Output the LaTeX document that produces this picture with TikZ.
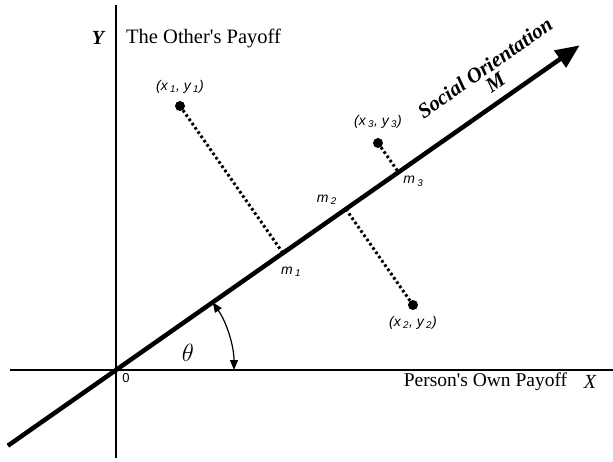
\documentclass[tikz,border=0pt]{standalone}
\usepackage{fontspec}
\setmainfont{Liberation Serif}[Ligatures=TeXOff]
\newfontfamily\lblfont{Liberation Sans}
\usetikzlibrary{arrows.meta, calc, positioning}

\begin{document}
\begin{tikzpicture}[x=1pt, y=1pt,
			axis/.style={line width=1.6pt},
			orient/.style={line width=4.5pt, -{Triangle[length=24pt, width=20pt]}},
			perp/.style={line width=3pt, dash pattern=on 2.6pt off 2.6pt},
			pt/.style={circle, fill, inner sep=0pt, minimum size=10pt},
			lbl/.style={font=\lblfont\fontsize{14}{16}\selectfont\itshape, inner sep=0pt},
			ttl/.style={font=\fontsize{19.5}{22}\selectfont, inner sep=0pt},
			angarr/.style={line width=1.2pt, {Triangle[length=10pt, width=8pt]}-{Triangle[length=10pt, width=8pt]}}]
			\useasboundingbox (0,0) rectangle (613,461);
			% axes
			\coordinate (O) at (116,91);
			\coordinate (ytop) at (116,456);
			\coordinate (ybot) at (116,3);
			\coordinate (xleft) at (10,91);
			\coordinate (xright) at (613,91);
			\draw[axis] (ybot) -- (ytop);
			\draw[axis] (xleft) -- (xright);
			\node[ttl, font=\bfseries\itshape\fontsize{20}{22}\selectfont] (ylab) at (98,423) {Y};
			\node[ttl, anchor=west, font=\fontsize{20.5}{22}\selectfont] (ytxt) at (126,423) {The Other's Payoff};
			\node[ttl] (xtxt) at (485.5,79) {Person's Own Payoff};
			\node[ttl, font=\itshape\fontsize{20}{22}\selectfont] (xlab) at (590,79) {X};
			\node[inner sep=0pt, font=\lblfont\fontsize{13}{13}\selectfont] (zero) at (126,83) {0};
			% social orientation axis
			\coordinate (tail) at ($(O)+(215:132)$);
			\coordinate (tip) at ($(O)+(35:566)$);
			\draw[orient] (tail) -- (tip);
			\node[rotate=35, align=center, inner sep=0pt, font=\bfseries\itshape\fontsize{21}{18}\selectfont] (so) at (490,386) {Social Orientation\\M};
			% angle
			\coordinate (a1) at ($(O)+(35:118)$);
			\draw[angarr] (a1) arc[start angle=35, end angle=0, radius=118];
			\node[inner sep=0pt, font=\fontsize{24}{24}\selectfont] (th) at (188,108) {$\theta$};
			% points and their projections
			\node[pt] (p1) at (180,355) {};
			\node[pt] (p2) at (413,156) {};
			\node[pt] (p3) at (378,318) {};
			\node[lbl, above=7pt of p1] (l1) {(x\,\textsubscript{1}, y\,\textsubscript{1})};
			\node[lbl, below=6pt of p2] (l2) {(x\,\textsubscript{2}, y\,\textsubscript{2})};
			\node[lbl, above=9pt of p3] (l3) {(x\,\textsubscript{3}, y\,\textsubscript{3})};
			\coordinate (f1) at ($(O)!(p1)!(tip)$);
			\coordinate (f2) at ($(O)!(p2)!(tip)$);
			\coordinate (f3) at ($(O)!(p3)!(tip)$);
			\draw[perp] (p1) -- (f1);
			\draw[perp] (p2) -- (f2);
			\draw[perp] (p3) -- (f3);
			\node[lbl] (m1) at ($(f1)+(8,-19)$) {m\,\textsubscript{1}};
			\node[lbl] (m2) at ($(f2)+(-19,9)$) {m\,\textsubscript{2}};
			\node[lbl] (m3) at ($(f3)+(15,-9)$) {m\,\textsubscript{3}};
		\end{tikzpicture}
\end{document}
